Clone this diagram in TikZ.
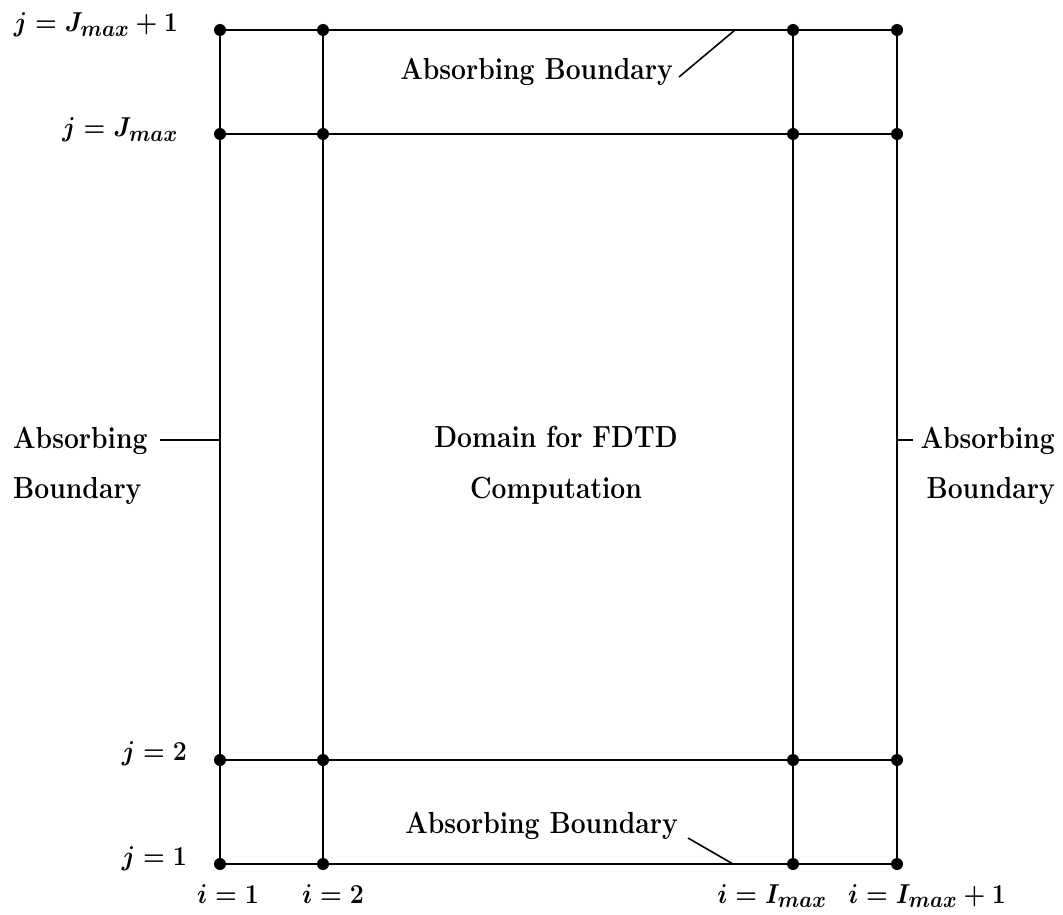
\documentclass[tikz,border=0pt]{standalone}
\usepackage{fontspec}
\newcommand{\tl}[1]{\scalebox{1}[1.15]{#1}}
\newcommand{\ml}[1]{\scalebox{1}[1.1]{#1}}
\begin{document}
\begin{tikzpicture}[x=1pt,y=1pt,
  dot/.style={circle,fill=black,inner sep=0pt,minimum size=12pt},
  grid/.style={line width=1.9pt},
  lead/.style={line width=1.6pt},
  lbl/.style={inner sep=0pt,font=\fontsize{26.5}{32}\selectfont\bfseries\boldmath},
  mlbl/.style={inner sep=0pt,font=\fontsize{28.5}{34}\selectfont\bfseries\boldmath}]
\useasboundingbox (0,0) rectangle (1063,-915);
% grid points
\foreach \c/\x in {1/220,2/323,3/793,4/897}{
  \foreach \r/\y in {1/-864,2/-760,3/-134,4/-30}{
    \node[dot] (p\c\r) at (\x,\y) {};
  }
}
% grid lines
\foreach \r in {1,2,3,4}{
  \draw[grid] (p1\r) -- (p2\r) -- (p3\r) -- (p4\r);
}
\foreach \c in {1,2,3,4}{
  \draw[grid] (p\c1) -- (p\c2) -- (p\c3) -- (p\c4);
}
% row labels
\node[mlbl,anchor=base east] (ljm1) at (178,-32) {\ml{$j=J_{max}+1$}};
\node[mlbl,anchor=base east] (ljm) at (178,-137) {\ml{$j=J_{max}$}};
\node[mlbl,anchor=base east] (lj2) at (187,-760) {\ml{$j=2$}};
\node[mlbl,anchor=base east] (lj1) at (187,-865) {\ml{$j=1$}};
% column labels
\node[mlbl,anchor=base] (li1) at (228,-903) {\ml{$i=1$}};
\node[mlbl,anchor=base] (li2) at (333,-903) {\ml{$i=2$}};
\node[mlbl,anchor=base] (lim) at (772,-903) {\ml{$i=I_{max}$}};
\node[mlbl,anchor=base] (lim1) at (927,-903) {\ml{$i=I_{max}+1$}};
% boundary labels
\node[lbl,anchor=base east] (abtop) at (673,-80) {\tl{Absorbing Boundary}};
\coordinate (ctop) at (735,-30);
\draw[lead] ([xshift=6pt,yshift=3pt]abtop.base east) coordinate (stop) -- (ctop);
\node[lbl,anchor=base east] (abbot) at (678,-833) {\tl{Absorbing Boundary}};
\coordinate (cbot) at (733,-864);
\draw[lead] ([xshift=10pt,yshift=-5pt]abbot.base east) coordinate (sbot) -- (cbot);
\node[lbl,anchor=base west] (ableft) at (13,-448) {\tl{Absorbing}};
\node[lbl,anchor=base west] (ableft2) at (13,-498) {\tl{Boundary}};
\coordinate (cleft) at (220,-440);
\draw[lead] (160,-440) coordinate (sleft) -- (cleft);
\node[lbl,anchor=base east] (abright) at (1055,-448) {\tl{Absorbing}};
\node[lbl,anchor=base east] (abright2) at (1055,-498) {\tl{Boundary}};
\coordinate (cright) at (897,-440);
\draw[lead] (cright) -- (913,-440) coordinate (sright);
% domain
\node[lbl,anchor=base] (dom1) at (556,-447) {\tl{Domain for FDTD}};
\node[lbl,anchor=base] (dom2) at (556,-498) {\tl{Computation}};
\end{tikzpicture}
\end{document}
